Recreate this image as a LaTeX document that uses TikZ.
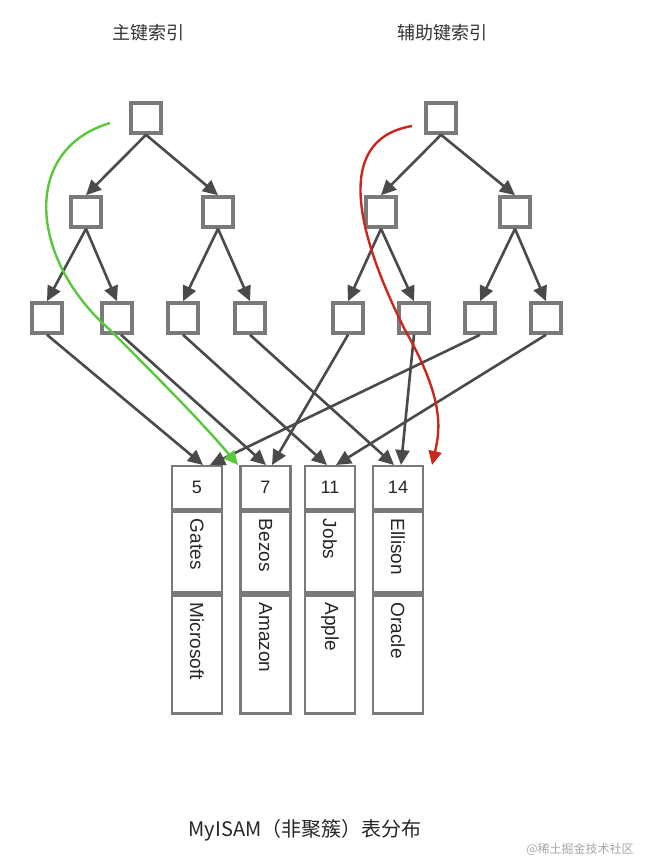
\documentclass[tikz,border=0pt]{standalone}
\usepackage{fontspec}
\setmainfont{Liberation Sans}
\newfontfamily\cjk{Noto Sans CJK SC}
\usetikzlibrary{arrows.meta,shadows}
\definecolor{ln}{HTML}{4A4A4A}
\definecolor{bx}{HTML}{7A7A7A}
\begin{document}
\begin{tikzpicture}[x=1pt,y=-1pt,
  tn/.style={draw=bx,line width=3.6pt,fill=white,minimum size=30pt,inner sep=0pt,drop shadow={shadow xshift=1pt,shadow yshift=-1pt,opacity=.25}},
  ed/.style={draw=ln,line width=2.6pt,-{Triangle[length=15pt,width=14pt]}},
  cell/.style={draw=bx,line width=2.8pt,minimum width=50pt,inner sep=0pt,fill=white},
  vt/.style={rotate=-90,font=\fontsize{19}{19}\selectfont,text=black!85}]
\useasboundingbox (0,0) rectangle (652,862);
\node[font=\cjk\fontsize{18}{20}\selectfont,text=black!80] (t1) at (148,33) {主键索引};
\node[font=\cjk\fontsize{18}{20}\selectfont,text=black!80] (t2) at (442,33) {辅助键索引};
% left tree
\node[tn] (a) at (146,118) {};
\node[tn] (a1) at (86,212) {};
\node[tn] (a2) at (218,212) {};
\node[tn] (a11) at (47,318) {};
\node[tn] (a12) at (117,318) {};
\node[tn] (a21) at (183,318) {};
\node[tn] (a22) at (250,318) {};
% right tree
\node[tn] (b) at (441,118) {};
\node[tn] (b1) at (381,212) {};
\node[tn] (b2) at (515,212) {};
\node[tn] (b11) at (348,318) {};
\node[tn] (b12) at (414,318) {};
\node[tn] (b21) at (480,318) {};
\node[tn] (b22) at (546,318) {};
\foreach \p/\c in {a/a1,a/a2,a1/a11,a1/a12,a2/a21,a2/a22,b/b1,b/b2,b1/b11,b1/b12,b2/b21,b2/b22}
  \draw[ed] (\p.south) -- (\c.north);
% table
\foreach \i/\x/\n/\nm/\co in {1/197/5/Gates/Microsoft,2/265.5/7/Bezos/Amazon,3/330/11/Jobs/Apple,4/398/14/Ellison/Oracle}{
  \node[cell,minimum height=43pt,font=\fontsize{18}{18}\selectfont,text=black!85] (n\i) at (\x,487.5) {\n};
  \node[cell,minimum height=81pt,anchor=north] (m\i) at (n\i.south) {};
  \node[vt,anchor=west] (mt\i) at ([yshift=-5pt]m\i.north) {\nm};
  \node[cell,minimum height=118pt,anchor=north] (c\i) at (m\i.south) {};
  \node[vt,anchor=west] (ct\i) at ([yshift=-5pt]c\i.north) {\co};
}
\coordinate (e1) at (203,465);
\coordinate (e1b) at (210,465);
\coordinate (e2) at (266,465);
\coordinate (e2b) at (272,465);
\coordinate (e3) at (327,465);
\coordinate (e3b) at (336,465);
\coordinate (e4) at (394,465);
\coordinate (e4b) at (401,465);
\draw[ed] (a11.south) -- (e1);
\draw[ed] ([xshift=4pt]a12.south) -- (e2);
\draw[ed] (a21.south) -- (e3);
\draw[ed] (a22.south) -- (e4);
\draw[ed] (b11.south) -- (e2b);
\draw[ed] (b12.south) -- (e4b);
\draw[ed] (b21.south) -- (e1b);
\draw[ed] (b22.south) -- (e3b);
% green and red paths
\coordinate (gs) at (110,123);
\coordinate (ge) at (238,465);
\draw[draw={rgb,255:red,90;green,200;blue,60},line width=2.4pt,-{Triangle[length=14pt,width=13pt]}]
  (gs) .. controls (20,150) and (30,260) .. (110,330) .. controls (150,370) and (200,420) .. (ge);
\coordinate (rs) at (412,126);
\coordinate (re) at (432,465);
\draw[draw={rgb,255:red,200;green,40;blue,30},line width=2.4pt,-{Triangle[length=14pt,width=13pt]}]
  (rs) .. controls (330,140) and (360,240) .. (405,330) .. controls (445,400) and (440,430) .. (re);
\node[font=\cjk\fontsize{20}{22}\selectfont,text=black!85] (cap) at (305,830) {MyISAM（非聚簇）表分布};
\node[font=\cjk\fontsize{12}{14}\selectfont,text=gray!70] (wm) at (580,849) {@稀土掘金技术社区};
\end{tikzpicture}
\end{document}
